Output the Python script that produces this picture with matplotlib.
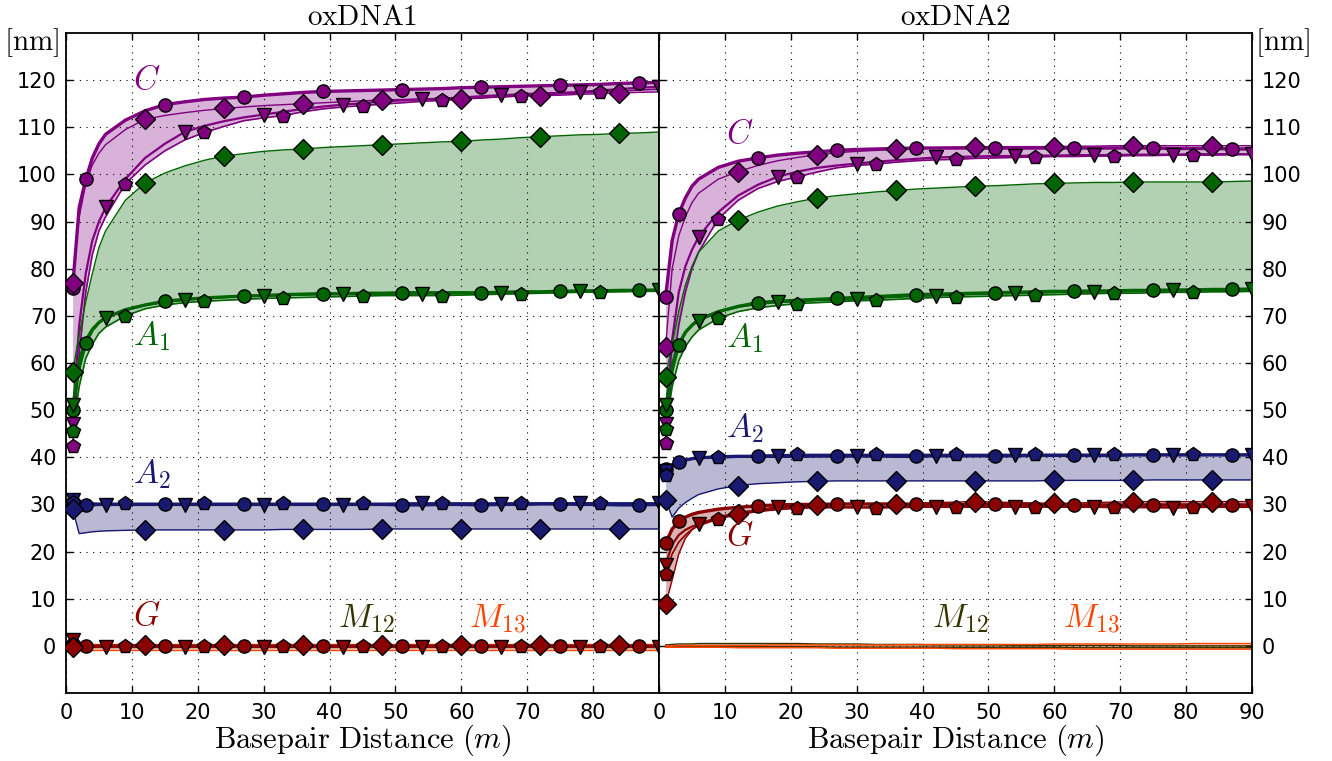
import numpy as np
import matplotlib
matplotlib.use("Agg")
import matplotlib.pyplot as plt

plt.rcParams['mathtext.fontset'] = 'cm'
plt.rcParams['font.family'] = ['DejaVu Sans']

# basepair distance grid (m)
m_bp = [1, 2, 3, 4, 5, 6, 9, 12, 15, 18, 21, 24, 27, 30, 33, 36, 39, 42, 45, 48,
        51, 54, 57, 60, 63, 66, 69, 72, 75, 78, 81, 84, 87, 90]

# ---------------- oxDNA1 ----------------
c1_circ = [76, 93, 99, 103.5, 106.5, 108.5, 111.5, 113.5, 114.8, 115.4, 115.9, 116.2, 116.4, 116.8, 117.1, 117.4, 117.6,
           117.7, 117.8, 117.9, 118.0, 118.1, 118.2, 118.4, 118.5, 118.6, 118.7, 118.8, 118.9, 119.0, 119.1, 119.3, 119.4, 119.5]
c1_tri = [47, 68, 79, 86, 90, 93, 99, 103.5, 106.5, 109, 110.3, 111.3, 112.1, 112.7, 113.3, 113.9, 114.4,
          114.8, 115.1, 115.5, 115.7, 115.9, 116.1, 116.3, 116.6, 116.8, 117.0, 117.2, 117.3, 117.5, 117.8, 118.1, 118.4, 118.6]
c1_pent = [42.5, 62, 75, 83, 88, 91, 98, 102, 105, 107.3, 108.9, 110.2, 111.4, 112.0, 112.5, 113.3, 113.9,
           114.3, 114.6, 114.9, 115.2, 115.5, 115.7, 116.0, 116.2, 116.5, 116.7, 116.9, 117.1, 117.3, 117.5, 117.7, 117.9, 118.1]
c1_diam = [77, 91, 98, 102, 104.5, 106.3, 109.5, 111.7, 112.5, 113.1, 113.6, 114.0, 114.3, 114.6, 114.8, 115.0, 115.2,
           115.4, 115.6, 115.8, 115.9, 116.0, 116.1, 116.1, 116.3, 116.4, 116.6, 116.7, 116.8, 117.0, 117.1, 117.3, 117.4, 117.5]

a11_circ = [50, 59, 64.3, 67, 68.6, 69.6, 71.3, 72.3, 73.1, 73.5, 73.8, 74.0, 74.2, 74.3, 74.5, 74.6, 74.7,
            74.7, 74.8, 74.8, 74.9, 74.9, 74.9, 74.9, 74.9, 75.0, 75.1, 75.1, 75.2, 75.3, 75.3, 75.4, 75.4, 75.5]
a11_tri = [51, 61, 65, 67.3, 68.6, 69.5, 71.2, 72.3, 72.9, 73.4, 73.7, 74.0, 74.2, 74.3, 74.4, 74.5, 74.6,
           74.6, 74.7, 74.7, 74.7, 74.7, 74.8, 74.8, 74.8, 74.8, 74.9, 75.0, 75.1, 75.2, 75.2, 75.3, 75.3, 75.4]
a11_pent = [45.5, 55, 61, 64, 66.3, 67.6, 70.0, 71.5, 72.3, 72.8, 73.1, 73.3, 73.5, 73.7, 73.8, 73.9, 74.0,
            74.1, 74.2, 74.3, 74.3, 74.3, 74.3, 74.4, 74.5, 74.6, 74.7, 74.8, 74.9, 75.0, 75.1, 75.1, 75.2, 75.2]
a11_diam = [58, 66, 73, 79, 84.5, 88, 94.5, 98.2, 100.3, 101.8, 103.0, 103.9, 104.4, 104.9, 105.2, 105.4, 105.7,
            105.9, 106.1, 106.3, 106.5, 106.7, 106.9, 107.0, 107.3, 107.5, 107.8, 108.0, 108.2, 108.4, 108.5, 108.7, 108.8, 109.0]

a21_circ = [30.5, 30.1, 29.9, 29.9, 30.0, 30.0, 30.0, 30.0, 30.0, 30.0, 30.0, 30.0, 30.0, 30.0, 30.0, 30.0, 30.0,
            30.0, 30.0, 30.0, 29.9, 29.9, 30.0, 30.0, 29.9, 30.0, 30.0, 30.1, 30.1, 30.0, 30.0, 29.9, 29.9, 30.0]
a21_tri = [31.0, 30.4, 30.2, 30.1, 30.1, 29.9, 30.0, 30.0, 30.0, 29.9, 30.0, 30.0, 30.0, 29.9, 30.0, 30.0, 30.0,
           29.9, 30.0, 30.0, 30.1, 30.2, 30.1, 30.1, 30.1, 30.1, 30.1, 30.1, 30.2, 30.2, 30.2, 30.2, 30.2, 30.2]
a21_pent = [30.6, 30.4, 30.3, 30.3, 30.2, 30.2, 30.2, 30.2, 30.2, 30.2, 30.2, 30.2, 30.2, 30.2, 30.2, 30.2, 30.2,
            30.2, 30.2, 30.2, 30.3, 30.3, 30.3, 30.3, 30.3, 30.3, 30.3, 30.3, 30.3, 30.3, 30.3, 30.3, 30.3, 30.3]
a21_diam = [29.1, 23.8, 24.0, 24.2, 24.3, 24.4, 24.5, 24.6, 24.6, 24.6, 24.6, 24.6, 24.6, 24.6, 24.7, 24.7, 24.7,
            24.7, 24.7, 24.8, 24.8, 24.8, 24.8, 24.8, 24.8, 24.8, 24.8, 24.8, 24.8, 24.8, 24.8, 24.8, 24.8, 24.8]

g1_circ = [0.3, 0.0, -0.1, -0.1, -0.1, -0.1, -0.1, -0.1, -0.1, -0.1, -0.1, -0.1, -0.1, -0.1, -0.1, -0.1, -0.1,
           -0.1, -0.1, -0.1, -0.1, -0.1, -0.1, -0.1, -0.1, -0.1, -0.1, -0.1, -0.1, -0.1, -0.1, -0.1, -0.1, -0.1]
g1_tri = [1.2, 0.3, 0.0, -0.1, -0.2, -0.2, -0.2, -0.2, -0.2, -0.2, -0.2, -0.2, -0.2, -0.2, -0.2, -0.2, -0.2,
          -0.2, -0.2, -0.2, -0.2, -0.2, -0.2, -0.2, -0.2, -0.2, -0.2, -0.2, -0.2, -0.2, -0.2, -0.2, -0.2, -0.2]
g1_pent = [0.5, 0.2, 0.1, 0.0, 0.0, 0.0, 0.0, 0.0, 0.0, 0.0, 0.0, 0.0, 0.0, 0.0, 0.0, 0.0, 0.0,
           0.0, 0.0, 0.0, 0.0, 0.0, 0.0, 0.0, 0.0, 0.0, 0.0, 0.0, 0.0, 0.0, 0.0, 0.0, 0.0, 0.0]
g1_diam = [-0.3, 0.0, 0.1, 0.1, 0.1, 0.1, 0.1, 0.1, 0.1, 0.1, 0.1, 0.1, 0.1, 0.1, 0.1, 0.1, 0.1,
           0.1, 0.1, 0.1, 0.1, 0.1, 0.1, 0.1, 0.1, 0.1, 0.1, 0.1, 0.1, 0.1, 0.1, 0.1, 0.1, 0.1]

m12_1_hi = [0.2, 0.2, 0.2, 0.2, 0.2, 0.2, 0.2, 0.2, 0.2, 0.2, 0.2, 0.2, 0.2, 0.2, 0.2, 0.2, 0.2,
            0.2, 0.2, 0.2, 0.2, 0.2, 0.2, 0.2, 0.2, 0.2, 0.2, 0.2, 0.2, 0.2, 0.2, 0.2, 0.2, 0.2]
m12_1_lo = [-0.3, -0.3, -0.3, -0.3, -0.3, -0.3, -0.3, -0.3, -0.3, -0.3, -0.3, -0.3, -0.3, -0.3, -0.3, -0.3, -0.3,
            -0.3, -0.3, -0.3, -0.3, -0.3, -0.3, -0.3, -0.3, -0.3, -0.3, -0.3, -0.3, -0.3, -0.3, -0.3, -0.3, -0.3]
m13_1_hi = [0.5, 0.5, 0.5, 0.5, 0.5, 0.5, 0.5, 0.5, 0.5, 0.5, 0.5, 0.5, 0.5, 0.5, 0.5, 0.5, 0.5,
            0.5, 0.5, 0.5, 0.5, 0.5, 0.5, 0.5, 0.5, 0.5, 0.5, 0.5, 0.5, 0.5, 0.5, 0.5, 0.5, 0.5]
m13_1_lo = [-0.8, -0.8, -0.8, -0.8, -0.8, -0.8, -0.8, -0.8, -0.8, -0.8, -0.8, -0.8, -0.8, -0.8, -0.8, -0.8, -0.8,
            -0.8, -0.8, -0.8, -0.8, -0.8, -0.8, -0.8, -0.8, -0.8, -0.8, -0.8, -0.8, -0.8, -0.8, -0.8, -0.8, -0.8]

# ---------------- oxDNA2 ----------------
c2_circ = [74, 86, 91.7, 95, 97.5, 99, 101.5, 102.8, 103.5, 104.1, 104.5, 104.8, 105.1, 105.3, 105.4, 105.5, 105.6,
           105.6, 105.6, 105.6, 105.6, 105.6, 105.6, 105.6, 105.6, 105.6, 105.6, 105.6, 105.6, 105.5, 105.5, 105.5, 105.4, 105.4]
c2_tri = [47, 65, 75, 80.5, 84, 86.7, 92, 95.5, 97.8, 99.5, 100.6, 101.4, 101.9, 102.3, 102.7, 103.0, 103.3,
          103.6, 103.7, 103.8, 103.9, 103.9, 104.0, 104.0, 104.1, 104.1, 104.1, 104.2, 104.2, 104.2, 104.3, 104.3, 104.3, 104.3]
c2_pent = [43, 58, 68, 75, 80, 83.5, 90.6, 94.5, 97, 98.5, 99.5, 100.5, 101.4, 101.9, 102.2, 102.6, 102.9,
           103.1, 103.2, 103.4, 103.5, 103.6, 103.7, 103.8, 103.8, 103.9, 103.9, 104.0, 104.0, 104.1, 104.1, 104.1, 104.2, 104.2]
c2_diam = [63.5, 80, 87, 91, 94, 96, 99, 100.6, 101.9, 102.9, 103.6, 104.2, 104.6, 104.9, 105.1, 105.3, 105.5,
           105.7, 105.8, 105.9, 105.9, 105.9, 105.9, 105.9, 106.0, 106.0, 106.1, 106.1, 106.1, 106.1, 106.1, 106.1, 106.1, 106.1]

a12_circ = [50, 58.5, 63.9, 66.5, 68, 69.2, 70.9, 72, 72.8, 73.1, 73.3, 73.5, 73.7, 73.9, 74.1, 74.3, 74.5,
            74.6, 74.7, 74.8, 74.9, 75.0, 75.1, 75.2, 75.2, 75.3, 75.3, 75.4, 75.4, 75.5, 75.5, 75.6, 75.6, 75.7]
a12_tri = [51, 60, 64, 66.5, 68, 69, 70.8, 71.9, 72.5, 72.9, 73.1, 73.3, 73.4, 73.5, 73.8, 74.0, 74.2,
           74.3, 74.5, 74.6, 74.7, 74.8, 74.9, 75.0, 75.0, 75.1, 75.2, 75.2, 75.3, 75.4, 75.4, 75.5, 75.5, 75.6]
a12_pent = [45.9, 55, 60.5, 63.5, 65.5, 67, 69.5, 70.9, 71.7, 72.2, 72.6, 72.8, 73.0, 73.2, 73.3, 73.5, 73.7,
            73.9, 74.0, 74.1, 74.2, 74.3, 74.4, 74.5, 74.6, 74.7, 74.8, 74.8, 74.9, 75.0, 75.0, 75.1, 75.1, 75.2]
a12_diam = [57, 64, 71, 76.5, 80.5, 83.5, 88, 90.3, 92, 93.3, 94.2, 95.0, 95.5, 95.9, 96.3, 96.6, 96.9,
            97.1, 97.3, 97.5, 97.6, 97.8, 98.0, 98.1, 98.2, 98.3, 98.3, 98.4, 98.4, 98.4, 98.4, 98.4, 98.5, 98.6]

a22_circ = [37.5, 38.4, 39.0, 39.4, 39.7, 39.9, 40.1, 40.2, 40.2, 40.2, 40.2, 40.3, 40.3, 40.3, 40.3, 40.2, 40.2,
            40.3, 40.3, 40.3, 40.3, 40.3, 40.4, 40.4, 40.4, 40.4, 40.4, 40.5, 40.5, 40.5, 40.5, 40.5, 40.5, 40.5]
a22_tri = [37, 38.5, 39.2, 39.5, 39.7, 39.8, 40.0, 40.1, 40.2, 40.2, 40.2, 40.2, 40.2, 40.2, 40.2, 40.3, 40.3,
           40.3, 40.3, 40.3, 40.4, 40.4, 40.4, 40.4, 40.4, 40.4, 40.4, 40.5, 40.5, 40.5, 40.5, 40.5, 40.5, 40.5]
a22_pent = [36.2, 38.0, 38.9, 39.3, 39.6, 39.8, 40.0, 40.2, 40.4, 40.5, 40.6, 40.6, 40.6, 40.6, 40.6, 40.6, 40.6,
            40.6, 40.6, 40.6, 40.6, 40.6, 40.6, 40.6, 40.6, 40.6, 40.6, 40.6, 40.6, 40.6, 40.6, 40.6, 40.6, 40.6]
a22_diam = [31, 27.3, 29.2, 30.4, 31.3, 32.1, 33.3, 34.0, 34.4, 34.6, 34.8, 34.9, 35.0, 35.0, 35.0, 35.0, 35.0,
            35.0, 35.0, 35.0, 35.0, 35.0, 35.0, 35.1, 35.1, 35.1, 35.1, 35.1, 35.2, 35.2, 35.2, 35.2, 35.2, 35.2]

g2_circ = [21.8, 24.8, 26.4, 27.3, 27.9, 28.3, 29.0, 29.4, 29.7, 29.9, 30.0, 30.0, 30.1, 30.1, 30.1, 30.1, 30.0,
           30.0, 30.0, 30.0, 30.1, 30.0, 30.0, 30.0, 29.9, 29.9, 29.9, 29.9, 29.9, 29.9, 29.9, 29.9, 29.9, 29.9]
g2_tri = [17.2, 21.5, 23.5, 24.6, 25.3, 25.8, 27.3, 28.2, 28.8, 29.4, 29.5, 29.5, 29.5, 29.4, 29.4, 29.5, 29.5,
          29.5, 29.5, 29.5, 29.5, 29.5, 29.5, 29.5, 29.5, 29.5, 29.4, 29.4, 29.4, 29.3, 29.4, 29.5, 29.6, 29.7]
g2_pent = [15.3, 19.5, 22, 23.5, 24.7, 25.5, 26.9, 27.9, 28.5, 28.9, 29.2, 29.3, 29.3, 29.3, 29.3, 29.3, 29.4,
           29.4, 29.4, 29.4, 29.5, 29.5, 29.5, 29.5, 29.4, 29.4, 29.4, 29.4, 29.4, 29.4, 29.4, 29.4, 29.4, 29.4]
g2_diam = [8.8, 14, 19.5, 22.8, 24.6, 25.7, 27.2, 27.9, 28.5, 29.1, 29.5, 29.9, 30.0, 30.1, 30.1, 30.1, 30.3,
           30.4, 30.5, 30.6, 30.5, 30.4, 30.3, 30.2, 30.3, 30.4, 30.5, 30.6, 30.6, 30.6, 30.6, 30.6, 30.6, 30.6]

m12_2_hi = [0.2, 0.3, 0.4, 0.4, 0.4, 0.5, 0.5, 0.5, 0.5, 0.5, 0.5, 0.4, 0.4, 0.4, 0.3, 0.3, 0.3,
            0.2, 0.2, 0.2, 0.2, 0.1, 0.1, 0.1, 0.1, 0.1, 0.1, 0.0, 0.0, 0.0, 0.0, 0.0, 0.0, 0.0]
m12_2_lo = [-0.2, -0.2, -0.2, -0.2, -0.2, -0.2, -0.2, -0.2, -0.2, -0.2, -0.2, -0.2, -0.3, -0.3, -0.3, -0.3, -0.3,
            -0.3, -0.3, -0.3, -0.3, -0.3, -0.3, -0.3, -0.4, -0.4, -0.4, -0.4, -0.4, -0.4, -0.4, -0.4, -0.4, -0.4]
m13_2_hi = [0.0, 0.0, 0.1, 0.1, 0.1, 0.1, 0.1, 0.1, 0.1, 0.2, 0.2, 0.2, 0.2, 0.2, 0.2, 0.2, 0.3,
            0.3, 0.3, 0.3, 0.3, 0.3, 0.3, 0.4, 0.4, 0.4, 0.4, 0.4, 0.4, 0.4, 0.5, 0.5, 0.5, 0.5]
m13_2_lo = [-0.3, -0.3, -0.3, -0.3, -0.3, -0.3, -0.3, -0.4, -0.4, -0.4, -0.4, -0.4, -0.5, -0.5, -0.5, -0.5, -0.5,
            -0.5, -0.6, -0.6, -0.6, -0.6, -0.6, -0.6, -0.7, -0.7, -0.7, -0.7, -0.7, -0.7, -0.7, -0.7, -0.7, -0.7]

y_ticks = [0, 10, 20, 30, 40, 50, 60, 70, 80, 90, 100, 110, 120]
x_ticks = [0, 10, 20, 30, 40, 50, 60, 70, 80, 90]

PURPLE = '#800080'
GREEN = '#006400'
NAVY = '#191970'
DRED = '#8b0000'
OLIVE = '#333300'
ORANGE = '#ff4500'

# marker shape, marker size, line width, marker offset (m mod 12)
series_style = [('o', 9.5, 2.4, 3), ('v', 10, 1.6, 6), ('p', 10, 1.2, 9), ('D', 10.5, 1.0, 0)]

panel1 = [(PURPLE, [c1_circ, c1_tri, c1_pent, c1_diam]),
          (GREEN, [a11_circ, a11_tri, a11_pent, a11_diam]),
          (NAVY, [a21_circ, a21_tri, a21_pent, a21_diam]),
          (DRED, [g1_circ, g1_tri, g1_pent, g1_diam])]
bands1 = [(OLIVE, [m12_1_hi, m12_1_lo]), (ORANGE, [m13_1_hi, m13_1_lo])]

panel2 = [(PURPLE, [c2_circ, c2_tri, c2_pent, c2_diam]),
          (GREEN, [a12_circ, a12_tri, a12_pent, a12_diam]),
          (NAVY, [a22_circ, a22_tri, a22_pent, a22_diam]),
          (DRED, [g2_circ, g2_tri, g2_pent, g2_diam])]
bands2 = [(OLIVE, [m12_2_hi, m12_2_lo]), (ORANGE, [m13_2_hi, m13_2_lo])]

labels1 = [(r'$C$', PURPLE, 10.2, 120.2), (r'$A_1$', GREEN, 10.2, 65.6), (r'$A_2$', NAVY, 10.2, 36.4),
           (r'$G$', DRED, 10.2, 6.5), (r'$M_{12}$', OLIVE, 41.3, 5.7), (r'$M_{13}$', ORANGE, 61.2, 5.7)]
labels2 = [(r'$C$', PURPLE, 10.1, 108.7), (r'$A_1$', GREEN, 10.1, 65.3), (r'$A_2$', NAVY, 10.1, 46.2),
           (r'$G$', DRED, 10.1, 23.4), (r'$M_{12}$', OLIVE, 41.4, 5.9), (r'$M_{13}$', ORANGE, 61.3, 5.9)]


def draw_panel(ax, groups, bands, labels):
    x = np.array(m_bp)
    # shaded spread between the curves of each quantity
    for color, curves in bands + groups:
        ys = np.array(curves)
        ax.fill_between(x, ys.min(axis=0), ys.max(axis=0), color=color, alpha=0.3, lw=0, zorder=1)
    for color, curves in bands:
        for y in curves:
            ax.plot(x, y, color=color, lw=1.0, zorder=2)
    for color, curves in groups:
        for y, (mk, ms, lw, off) in zip(curves, series_style):
            ax.plot(x, y, color=color, lw=lw, zorder=2)
    for color, curves in groups:
        for y, (mk, ms, lw, off) in zip(curves, series_style):
            idx = [i for i, v in enumerate(m_bp) if v == 1 or (v >= 3 and v % 12 == off)]
            ax.plot(x[idx], np.array(y)[idx], ls='none', marker=mk, ms=ms, mfc=color,
                    mec='black', mew=1.0, zorder=3)
    for txt, color, lx, ly in labels:
        ax.text(lx, ly, txt, color=color, fontsize=24, ha='left', va='center', zorder=4)

    ax.set_xlim(0, 90)
    ax.set_ylim(-10, 130)
    ax.set_yticks(y_ticks)
    ax.set_xticks(x_ticks)
    ax.grid(True, color='black', lw=0.8, linestyle=(0, (1, 5)))
    for sp in ax.spines.values():
        sp.set_linewidth(1.3)
    ax.tick_params(direction='in', length=5, width=1, top=True, bottom=True, left=True, right=True,
                   labelsize=15, pad=7)
    ax.set_xlabel(r'$\mathrm{Basepair\ Distance}\ (m)$', fontsize=22, labelpad=0)


fig = plt.figure(figsize=(13.32, 7.61), dpi=100)
ax1 = fig.add_axes([66 / 1332, 68 / 761, 593 / 1332, 660 / 761])
ax2 = fig.add_axes([659 / 1332, 68 / 761, 593 / 1332, 660 / 761])

draw_panel(ax1, panel1, bands1, labels1)
draw_panel(ax2, panel2, bands2, labels2)

ax1.set_xticklabels(['0', '10', '20', '30', '40', '50', '60', '70', '80', ''])
ax2.tick_params(labelleft=False, labelright=True)

ax1.set_title(r'$\mathrm{oxDNA1}$', fontsize=21, pad=6)
ax2.set_title(r'$\mathrm{oxDNA2}$', fontsize=21, pad=6)

fig.text(32 / 1332, 1 - 43 / 761, r'$[\mathrm{nm}]$', ha='center', va='center', fontsize=21)
fig.text(1283 / 1332, 1 - 43 / 761, r'$[\mathrm{nm}]$', ha='center', va='center', fontsize=21)

fig.savefig('out.png', dpi=100, facecolor='white')
